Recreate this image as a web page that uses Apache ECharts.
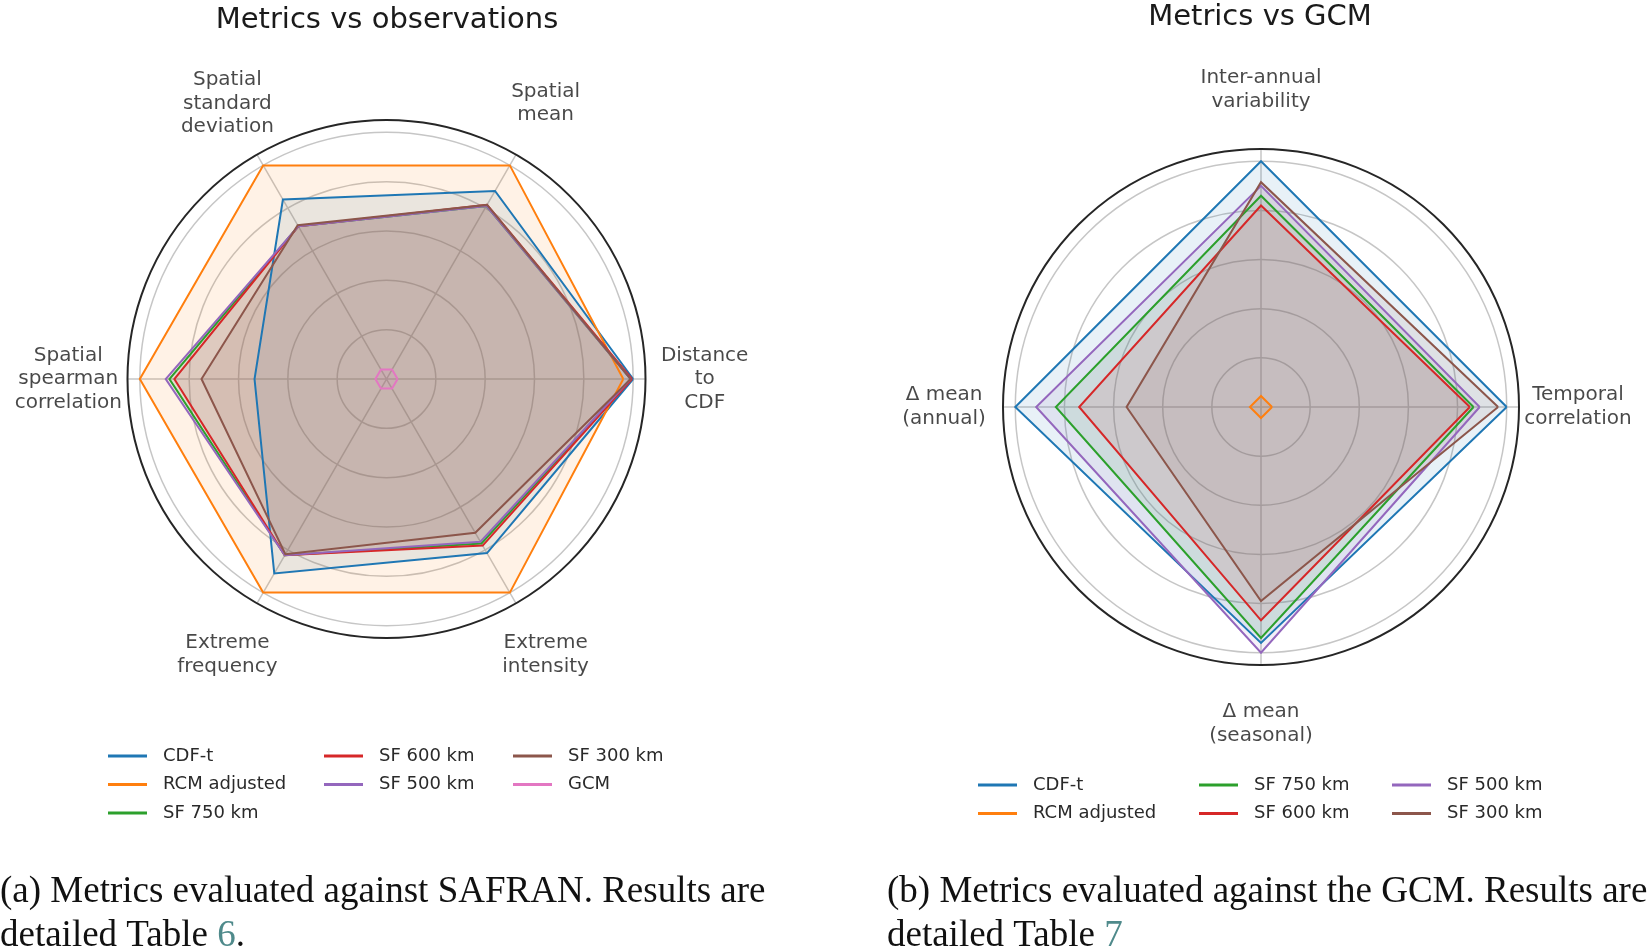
<!DOCTYPE html>
<html>
<head>
<meta charset="utf-8">
<script src="https://cdn.jsdelivr.net/npm/echarts/dist/echarts.min.js"></script>
<style>
html,body{margin:0;padding:0;background:#fff;}
#chart{width:1649px;height:950px;}
</style>
</head>
<body>
<div id="chart"></div>
<script>
// ---------- data ----------
const leftIndicators = ['Distance\nto\nCDF', 'Spatial\nmean', 'Spatial\nstandard\ndeviation', 'Spatial\nspearman\ncorrelation', 'Extreme\nfrequency', 'Extreme\nintensity'];
const rightIndicators = ['Temporal\ncorrelation', 'Inter-annual\nvariability', 'Δ mean\n(annual)', 'Δ mean\n(seasonal)'];

const seriesNames = ['CDF-t', 'RCM adjusted', 'SF 750 km', 'SF 600 km', 'SF 500 km', 'SF 300 km', 'GCM'];

// Metrics vs observations
const leftCDFt   = [1.0, 0.88, 0.84, 0.535, 0.91, 0.815];
const leftRCM    = [0.96, 1.0, 1.0, 1.0, 1.0, 1.0];
const leftSF750  = [0.99, 0.81, 0.715, 0.88, 0.825, 0.77];
const leftSF600  = [0.995, 0.815, 0.715, 0.86, 0.825, 0.78];
const leftSF500  = [0.99, 0.81, 0.715, 0.895, 0.825, 0.762];
const leftSF300  = [0.99, 0.815, 0.72, 0.75, 0.82, 0.72];
const leftGCM    = [0.045, 0.045, 0.045, 0.045, 0.045, 0.045];

// Metrics vs GCM
const rightCDFt  = [1.0, 1.0, 1.0, 0.96];
const rightRCM   = [0.045, 0.045, 0.045, 0.045];
const rightSF750 = [0.865, 0.86, 0.835, 0.94];
const rightSF600 = [0.85, 0.82, 0.74, 0.868];
const rightSF500 = [0.89, 0.90, 0.915, 1.0];
const rightSF300 = [0.965, 0.915, 0.547, 0.79];

const leftValues = [leftCDFt, leftRCM, leftSF750, leftSF600, leftSF500, leftSF300, leftGCM];
const rightValues = [rightCDFt, rightRCM, rightSF750, rightSF600, rightSF500, rightSF300];

// ---------- style ----------
const palette = {
  'CDF-t': '#1f77b4', 'RCM adjusted': '#ff7f0e', 'SF 750 km': '#2ca02c',
  'SF 600 km': '#d62728', 'SF 500 km': '#9467bd', 'SF 300 km': '#8c564b', 'GCM': '#e377c2'
};
const GRID = '#c6c6c6';
const FRAME = '#262626';
const TXT = '#1a1a1a';
const FONT = 'DejaVu Sans';
const LABEL_R = 1.29;

// angle axis is a value axis running 0..n (n = number of indicators), so index n closes the polygon
function lineSeries(name, values, polarIndex) {
  const pts = values.map((v, i) => [v, i]);
  pts.push([values[0], values.length]);
  const c = palette[name];
  return {
    type: 'line', name: name, coordinateSystem: 'polar', polarIndex: polarIndex,
    data: pts, symbol: 'none', smooth: false, silent: true, animation: false, clip: false,
    lineStyle: { color: c, width: 2, join: 'miter' },
    itemStyle: { color: c },
    areaStyle: { color: c, opacity: 0.1 }
  };
}
function labelSeries(labels, polarIndex) {
  return {
    type: 'scatter', coordinateSystem: 'polar', polarIndex: polarIndex, clip: false, silent: true,
    data: labels.map((n, i) => ({ value: [LABEL_R, i], name: n })),
    symbolSize: 1, itemStyle: { color: 'rgba(0,0,0,0)' },
    label: {
      show: true, position: 'inside', formatter: p => p.name,
      fontFamily: FONT, fontSize: 20, lineHeight: 23.5, color: TXT
    }
  };
}
function angleAxis(labels, polarIndex) {
  return {
    polarIndex: polarIndex, type: 'value', min: 0, max: labels.length, interval: 1,
    startAngle: 0, clockwise: false,
    axisLine: { show: true, lineStyle: { color: FRAME, width: 2 } },
    axisTick: { show: false },
    axisLabel: { show: false },
    splitLine: { show: true, lineStyle: { color: GRID, width: 1.5 } }
  };
}
function radiusAxis(polarIndex) {
  return {
    polarIndex: polarIndex, type: 'value', min: 0, max: 1.05, interval: 0.2,
    axisLine: { show: false }, axisTick: { show: false }, axisLabel: { show: false },
    splitLine: { show: true, lineStyle: { color: [GRID, GRID, GRID, GRID, GRID, GRID, 'rgba(0,0,0,0)'], width: 1.5 } }
  };
}
const legendCommon = {
  orient: 'vertical', icon: 'rect', itemWidth: 39, itemHeight: 3, itemGap: 8.5, padding: 0,
  selectedMode: false,
  textStyle: { fontFamily: FONT, fontSize: 18, color: '#2a2a2a', lineHeight: 20, padding: [0, 0, 0, 11] }
};
const captionStyle = {
  fontFamily: 'Liberation Serif', fontSize: 37, fontWeight: 'normal', color: '#111', lineHeight: 44,
  rich: { n: { fontFamily: 'Liberation Serif', fontSize: 37, lineHeight: 44, color: '#4f8a8b' } }
};

const series = [];
seriesNames.forEach((n, i) => series.push(lineSeries(n, leftValues[i], 0)));
seriesNames.slice(0, 6).forEach((n, i) => series.push(lineSeries(n, rightValues[i], 1)));
series.push(labelSeries(leftIndicators, 0));
series.push(labelSeries(rightIndicators, 1));

const option = {
  backgroundColor: '#ffffff',
  animation: false,
  title: [
    { text: 'Metrics vs observations', left: 387, top: 3, textAlign: 'center', padding: 0,
      textStyle: { fontFamily: FONT, fontSize: 29, fontWeight: 'normal', color: TXT, lineHeight: 34 } },
    { text: 'Metrics vs GCM', left: 1260, top: 0, textAlign: 'center', padding: 0,
      textStyle: { fontFamily: FONT, fontSize: 29, fontWeight: 'normal', color: TXT, lineHeight: 34 } },
    { text: '(a) Metrics evaluated against SAFRAN. Results are\ndetailed Table {n|6}.', left: 0, top: 870, padding: 0,
      textStyle: captionStyle },
    { text: '(b) Metrics evaluated against the GCM. Results are\ndetailed Table {n|7}', left: 887, top: 870, padding: 0,
      textStyle: captionStyle }
  ],
  legend: [
    Object.assign({ data: ['CDF-t', 'RCM adjusted', 'SF 750 km'], left: 108, top: 746 }, legendCommon),
    Object.assign({ data: ['SF 600 km', 'SF 500 km'], left: 324, top: 746 }, legendCommon),
    Object.assign({ data: ['SF 300 km', 'GCM'], left: 513, top: 746 }, legendCommon),
    Object.assign({ data: ['CDF-t', 'RCM adjusted'], left: 978, top: 775 }, legendCommon),
    Object.assign({ data: ['SF 750 km', 'SF 600 km'], left: 1199, top: 775 }, legendCommon),
    Object.assign({ data: ['SF 500 km', 'SF 300 km'], left: 1392, top: 775 }, legendCommon)
  ],
  polar: [
    { center: [386.5, 379], radius: 259 },
    { center: [1261, 407], radius: 258 }
  ],
  angleAxis: [angleAxis(leftIndicators, 0), angleAxis(rightIndicators, 1)],
  radiusAxis: [radiusAxis(0), radiusAxis(1)],
  series: series
};

const chart = echarts.init(document.getElementById('chart'), null, { renderer: 'canvas' });
chart.setOption(option);
</script>
</body>
</html>
